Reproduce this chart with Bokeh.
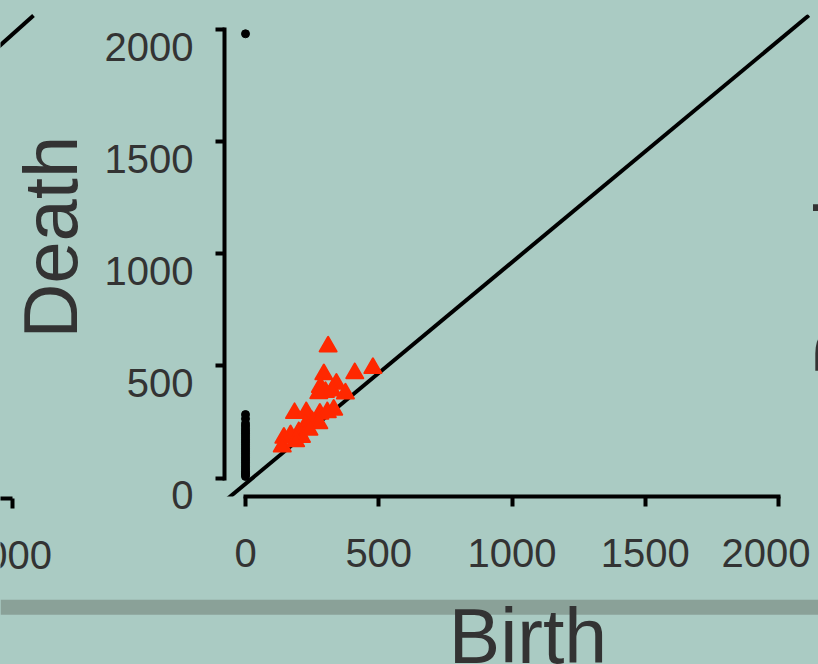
from bokeh.plotting import figure
from bokeh.models import Range1d, LinearAxis, FixedTicker, Label, BoxAnnotation
from bokeh.layouts import column, row
from bokeh.embed import file_html
from bokeh.resources import INLINE
import math

# ---------------- data ----------------
x_ticks = [0, 500, 1000, 1500, 2000]
y_ticks = [0, 500, 1000, 1500, 2000]

# dimension-0 features (black dots, all born at 0)
h0_death = [7, 15, 22, 30, 40, 50, 60, 70, 80, 90, 100, 110, 120, 130, 140,
            150, 160, 170, 180, 190, 200, 210, 220, 232, 243, 264, 283, 1981]
h0_birth = [0] * len(h0_death)

# dimension-1 features (red triangles)
h1_birth = [310, 478, 410, 294, 341, 375, 281, 300, 275, 325, 184, 228, 279,
            331, 307, 250, 275, 225, 200, 210, 169, 144, 138, 188, 238]
h1_death = [586, 490, 467, 462, 420, 376, 405, 383, 378, 390, 289, 293, 286,
            304, 293, 253, 244, 234, 204, 182, 190, 179, 140, 163, 215]

# diagonal reference line
diag_birth = [-75, 2114]
diag_death = [-100, 2063]

# fragments of the neighbouring panels (pixel positions in the strip on the left)
frag_x0 = [-5, -5, 12]
frag_y0 = [49, 498, 498]
frag_x1 = [33, 12, 12]
frag_y1 = [15, 498, 508]

BG = "#aacbc3"
BAND = "#8aa198"
TXT = "#333333"
RED = "#ff2800"
FONT = "Liberation Sans"

W, H = 818, 664
TOP_H = 590          # height of the upper row
LEFT_W = 96          # width of the strip left of the main panel
RIGHT_W = 8          # strip right of the main panel
MAIN_W = W - LEFT_W - RIGHT_W
FL, FB = 224, 496    # frame left / bottom in page px


def blank(width, height, xr, yr):
    f = figure(width=width, height=height, x_range=xr, y_range=yr,
               output_backend="svg", toolbar_location=None, min_border=0,
               background_fill_color=BG, border_fill_color=BG, outline_line_color=None,
               frame_align=False)
    f.axis.visible = False
    f.grid.visible = False
    return f


def label(x, y, text, size, angle=0.0, align="center"):
    return Label(x=x, y=y, text=text, text_font=FONT, text_font_size=size, text_color=TXT,
                 angle=angle, text_align=align, text_baseline="middle")


# ---------------- main panel ----------------
p = figure(width=MAIN_W, height=TOP_H, x_range=Range1d(-78.8, 2120), y_range=Range1d(-82.5, 2067),
           output_backend="svg", toolbar_location=None,
           min_border_left=FL - LEFT_W, min_border_right=0, min_border_top=14,
           min_border_bottom=TOP_H - FB, frame_align=False,
           background_fill_color=BG, border_fill_color=BG, outline_line_color=None)
p.grid.visible = False

xa = p.xaxis[0]
xa.ticker = FixedTicker(ticks=x_ticks)
xa.bounds = (0, 2000)
xa.axis_line_width = 4
xa.axis_line_cap = "square"
xa.major_tick_line_width = 4
xa.major_tick_out = 10
xa.major_tick_in = 0
xa.minor_tick_line_color = None
xa.major_label_text_font_size = "40px"
xa.major_label_text_font = FONT
xa.major_label_text_color = TXT
xa.major_label_standoff = 32

ya = p.yaxis[0]
ya.ticker = FixedTicker(ticks=y_ticks)
ya.bounds = (0, 2000)
ya.axis_line_width = 4
ya.axis_line_cap = "square"
ya.major_tick_line_width = 4
ya.major_tick_out = 9
ya.major_tick_in = 0
ya.minor_tick_line_color = None
ya.major_label_text_color = None
ya.major_label_text_font_size = "1px"
ya.major_label_standoff = 0

# y tick labels, set slightly below their ticks as in the reference
p.extra_y_ranges = {"lab": Range1d(-82.5 + 76, 2067 + 76)}
yl = LinearAxis(y_range_name="lab", ticker=FixedTicker(ticks=y_ticks),
                axis_line_color=None, major_tick_line_color=None, minor_tick_line_color=None,
                major_tick_out=0, major_tick_in=0,
                major_label_text_font_size="40px", major_label_text_font=FONT,
                major_label_text_color=TXT, major_label_standoff=22)
p.add_layout(yl, "left")

p.line(diag_birth, diag_death, line_color="black", line_width=4)
p.scatter(h0_birth, h0_death, marker="circle", size=8, color="black")
p.scatter(h1_birth, h1_death, marker="triangle", size=17, fill_color=RED,
          line_color=RED, line_width=2, line_join="round")

# ---------------- left strip: "Death" + neighbour fragments ----------------
left = blank(LEFT_W, TOP_H, Range1d(0, LEFT_W), Range1d(TOP_H, 0))
left.segment(frag_x0, frag_y0, frag_x1, frag_y1, line_color="black", line_width=4)
left.add_layout(label(49.5, 236.7, "Death", "76px", angle=math.pi / 2))
left.add_layout(label(51.5, 554.3, "2000", "40px", align="right"))

# ---------------- right strip: neighbour's "Death" ----------------
right = blank(RIGHT_W, TOP_H, Range1d(W - RIGHT_W, W), Range1d(TOP_H, 0))
right.add_layout(label(841.2, 275, "Death", "76px", angle=math.pi / 2))

# ---------------- bottom strip: band + "Birth" ----------------
BOT_H = H - TOP_H
bottom = blank(W, BOT_H, Range1d(0, W), Range1d(BOT_H + TOP_H, TOP_H))
bottom.add_layout(BoxAnnotation(top=599.3, bottom=614.3, fill_color=BAND, fill_alpha=1.0,
                                line_color=None, level="underlay"))
bottom.add_layout(label(527.5, 635.5, "Birth", "77px"))

layout = column(row(left, p, right, spacing=0), bottom, spacing=0)

tpl = ("{% block postamble %}<style>html, body {margin:0 !important; padding:0 !important;"
       " background-color:" + BG + " !important; overflow:hidden !important;}</style>"
       "{% endblock %}")
open("out.html", "w").write(file_html(layout, INLINE, template=tpl))
